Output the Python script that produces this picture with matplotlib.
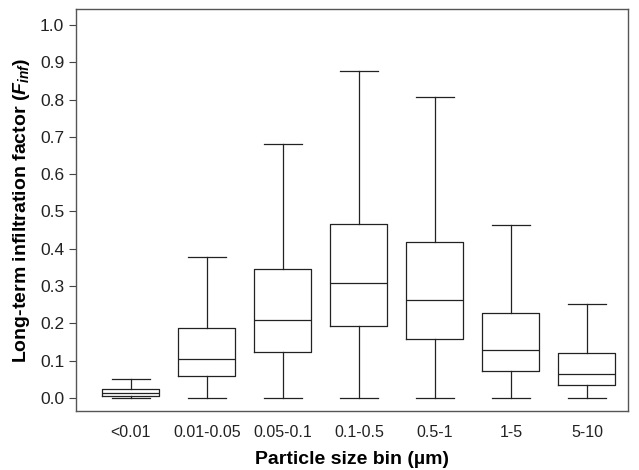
import matplotlib.pyplot as plt

plt.rcParams['font.family'] = ['Liberation Sans', 'DejaVu Sans']
plt.rcParams['mathtext.fontset'] = 'custom'
plt.rcParams['mathtext.bfit'] = 'Liberation Sans:bold:italic'
plt.rcParams['mathtext.it'] = 'Liberation Sans:bold:italic'

# Particle size bins and box statistics
bins = ['<0.01', '0.01-0.05', '0.05-0.1', '0.1-0.5', '0.5-1', '1-5', '5-10']
whislo = [0.0, 0.0, 0.0, 0.0, 0.0, 0.0, 0.0]
q1 = [0.006, 0.058, 0.124, 0.193, 0.158, 0.072, 0.035]
med = [0.012, 0.104, 0.210, 0.308, 0.263, 0.128, 0.065]
q3 = [0.023, 0.187, 0.347, 0.467, 0.418, 0.229, 0.121]
whishi = [0.052, 0.378, 0.682, 0.877, 0.807, 0.464, 0.252]

stats = []
for i, name in enumerate(bins):
    stats.append({'label': name, 'whislo': whislo[i], 'q1': q1[i], 'med': med[i],
                  'q3': q3[i], 'whishi': whishi[i], 'fliers': []})

fig = plt.figure(figsize=(6.39, 4.70), dpi=100)
ax = fig.add_axes([76 / 639, 59 / 470, 552 / 639, 402 / 470])

lc = '#222222'
ax.bxp(stats, positions=range(len(bins)), widths=0.75, showfliers=False,
       boxprops=dict(color=lc, linewidth=0.9),
       medianprops=dict(color=lc, linewidth=0.9),
       whiskerprops=dict(color=lc, linewidth=0.9),
       capprops=dict(color=lc, linewidth=0.9),
       capwidths=0.5)

ax.set_xlim(-0.72, 6.54)
ax.set_ylim(-0.035, 1.043)
ax.set_yticks([i / 10 for i in range(11)])
ax.set_yticklabels([f'{i / 10:.1f}' for i in range(11)], fontsize=12.5, color='#222222')
ax.set_xticks(range(len(bins)))
ax.set_xticklabels(bins, fontsize=11.5, color='#222222')
ax.tick_params(axis='x', length=0, pad=10)
ax.tick_params(axis='y', length=5, width=0.8, color='#444444')

for s in ax.spines.values():
    s.set_color('#555555')
    s.set_linewidth(1.0)

ax.set_xlabel('Particle size bin (µm)', fontsize=14, fontweight='bold', labelpad=8)
ax.set_ylabel(r'Long-term infiltration factor ($\mathit{F}_{\mathit{inf}}$)', fontsize=14, fontweight='bold',
              labelpad=6)

fig.savefig('out.png', dpi=100)
